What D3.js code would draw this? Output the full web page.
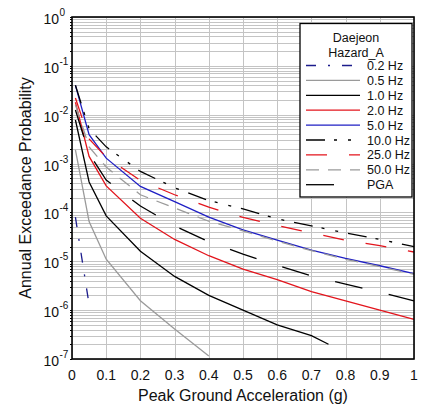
<!DOCTYPE html>
<html><head><meta charset="utf-8">
<script src="https://cdn.jsdelivr.net/npm/d3@7"></script>
<style>
html,body{margin:0;padding:0;background:#fff;}
text{font-family:"Liberation Sans",Arial,sans-serif;}
</style></head>
<body><svg id="c" width="429" height="412"></svg>
<script>
// ---- data ----
const pgaX   = [0.01,0.05,0.1,0.2,0.3,0.4,0.5,0.6,0.7,0.8,0.9,1.0];
const x02    = [0.01,0.05];
const hz02   = [8.0e-5,1.3e-6];
const x05    = [0.01,0.05,0.1,0.2,0.3,0.4];
const hz05   = [1.9e-3,6.5e-5,1.1e-5,1.56e-6,4.1e-7,1.15e-7];
const x10    = [0.01,0.05,0.1,0.2,0.3,0.4,0.5,0.6,0.7,0.75];
const hz10   = [7.8e-3,4.2e-4,8.5e-5,1.6e-5,4.9e-6,2.0e-6,1.0e-6,5.0e-7,3.0e-7,2.0e-7];
const hz20   = [1.8e-2,1.4e-3,3.5e-4,7.6e-5,2.8e-5,1.3e-5,6.9e-6,4.2e-6,2.4e-6,1.55e-6,1.0e-6,6.5e-7];
const hz50   = [4.0e-2,3.9e-3,1.29e-3,3.4e-4,1.66e-4,8.0e-5,4.4e-5,2.7e-5,1.7e-5,1.15e-5,8.1e-6,5.6e-6];
const hz100  = [4.0e-2,5.2e-3,2.2e-3,6.9e-4,3.2e-4,1.75e-4,1.18e-4,7.4e-5,5.3e-5,3.8e-5,2.8e-5,2.0e-5];
const hz250  = [2.2e-2,3.2e-3,1.36e-3,4.5e-4,2.3e-4,1.28e-4,7.9e-5,5.4e-5,3.8e-5,2.7e-5,2.1e-5,1.55e-5];
const hz500  = [1.6e-2,2.2e-3,8.5e-4,2.3e-4,1.23e-4,6.6e-5,4.2e-5,2.6e-5,1.65e-5,1.1e-5,7.8e-6,5.4e-6];
const pgaY   = [1.25e-2,1.6e-3,4.6e-4,1.35e-4,5.3e-5,2.5e-5,1.4e-5,8.3e-6,5.0e-6,3.4e-6,2.35e-6,1.55e-6];
const xTicks = [0,0.1,0.2,0.3,0.4,0.5,0.6,0.7,0.8,0.9,1];
const yExps  = [0,-1,-2,-3,-4,-5,-6,-7];
const legendTitle = ["Daejeon","Hazard_A"];

const series = [
  {name:"0.2 Hz", xs:x02, ys:hz02, color:"#1c1c8c", dash:"10,12,2,12"},
  {name:"0.5 Hz", xs:x05, ys:hz05, color:"#9a9a9a", dash:null},
  {name:"1.0 Hz", xs:x10, ys:hz10, color:"#000000", dash:null},
  {name:"2.0 Hz", xs:pgaX, ys:hz20, color:"#e3141c", dash:null},
  {name:"5.0 Hz", xs:pgaX, ys:hz50, color:"#1f1fc4", dash:null},
  {name:"10.0 Hz", xs:pgaX, ys:hz100, color:"#000000", dash:"19,9,3,11,3,10"},
  {name:"25.0 Hz", xs:pgaX, ys:hz250, color:"#e3141c", dash:"21,22"},
  {name:"50.0 Hz", xs:pgaX, ys:hz500, color:"#9a9a9a", dash:"13,9"},
  {name:"PGA", xs:pgaX, ys:pgaY, color:"#000000", dash:"28,27"}
];

// ---- layout ----
const L=72, R=414, T=17, B=359;
const x = d3.scaleLinear().domain([0,1]).range([L,R]);
const y = d3.scaleLog().domain([1e-7,1]).range([B,T]);
const svg = d3.select("#c");

// grid
const g = svg.append("g");
xTicks.forEach(v=>{
  g.append("line").attr("x1",Math.round(x(v))+0.5).attr("x2",Math.round(x(v))+0.5).attr("y1",T).attr("y2",B)
   .attr("stroke","#c4c4c4").attr("stroke-width",1);
});
const yGrid=[];
for(let e=-7;e<0;e++){ for(let m=1;m<10;m++){ yGrid.push(m*Math.pow(10,e)); } }
yGrid.push(1);
yGrid.forEach(v=>{
  g.append("line").attr("x1",L).attr("x2",R).attr("y1",Math.round(y(v))+0.5).attr("y2",Math.round(y(v))+0.5)
   .attr("stroke","#c4c4c4").attr("stroke-width",1);
});

// left axis small ticks
yGrid.forEach(v=>{
  svg.append("line").attr("x1",L-2).attr("x2",L).attr("y1",Math.round(y(v))+0.5).attr("y2",Math.round(y(v))+0.5)
   .attr("stroke","#000").attr("stroke-width",1);
});

// curves
const line = d3.line().x(d=>x(d[0])).y(d=>y(d[1]));
series.forEach(s=>{
  const pts = s.xs.map((xv,i)=>[xv,s.ys[i]]);
  svg.append("path").attr("d",line(pts)).attr("fill","none")
    .attr("stroke",s.color).attr("stroke-width",1.3)
    .attr("stroke-dasharray",s.dash);
});

// frame
svg.append("rect").attr("x",L).attr("y",T).attr("width",R-L).attr("height",B-T)
  .attr("fill","none").attr("stroke","#000").attr("stroke-width",1.6);

// x tick labels
xTicks.forEach(v=>{
  svg.append("text").attr("x",x(v)).attr("y",380).attr("text-anchor","middle")
    .attr("font-size",14).attr("fill","#111").text(d3.format("~g")(v));
});
// y tick labels
yExps.forEach(e=>{
  svg.append("text").attr("x",59).attr("y",y(Math.pow(10,e))+7)
     .attr("text-anchor","end").attr("font-size",14).attr("fill","#111").text("10");
  svg.append("text").attr("x",59.5).attr("y",y(Math.pow(10,e))-1)
     .attr("font-size",10).attr("fill","#111").text(String(e));
});

// axis titles
svg.append("text").attr("x",243).attr("y",401).attr("text-anchor","middle")
  .attr("font-size",16).attr("fill","#111").text("Peak Ground Acceleration (g)");
svg.append("text").attr("transform","translate(31,188) rotate(-90)").attr("text-anchor","middle")
  .attr("font-size",16).attr("fill","#111").text("Annual Exceedance Probability");

// legend
const lg = svg.append("g");
lg.append("rect").attr("x",300).attr("y",23.5).attr("width",112).attr("height",173.5)
  .attr("fill","#fff").attr("stroke","#000").attr("stroke-width",1.3);
legendTitle.forEach((t,i)=>{
  lg.append("text").attr("x",356).attr("y",42+i*15).attr("text-anchor","middle")
    .attr("font-size",12.5).attr("fill","#111").text(t);
});
series.forEach((s,i)=>{
  const cy = 65.5+i*14.9;
  lg.append("line").attr("x1",306).attr("x2",360).attr("y1",cy).attr("y2",cy)
    .attr("stroke",s.color).attr("stroke-width",1.3).attr("stroke-dasharray",s.dash);
  lg.append("text").attr("x",367).attr("y",cy+4.5).attr("font-size",12.5).attr("fill","#111").text(s.name);
});
</script></body></html>
